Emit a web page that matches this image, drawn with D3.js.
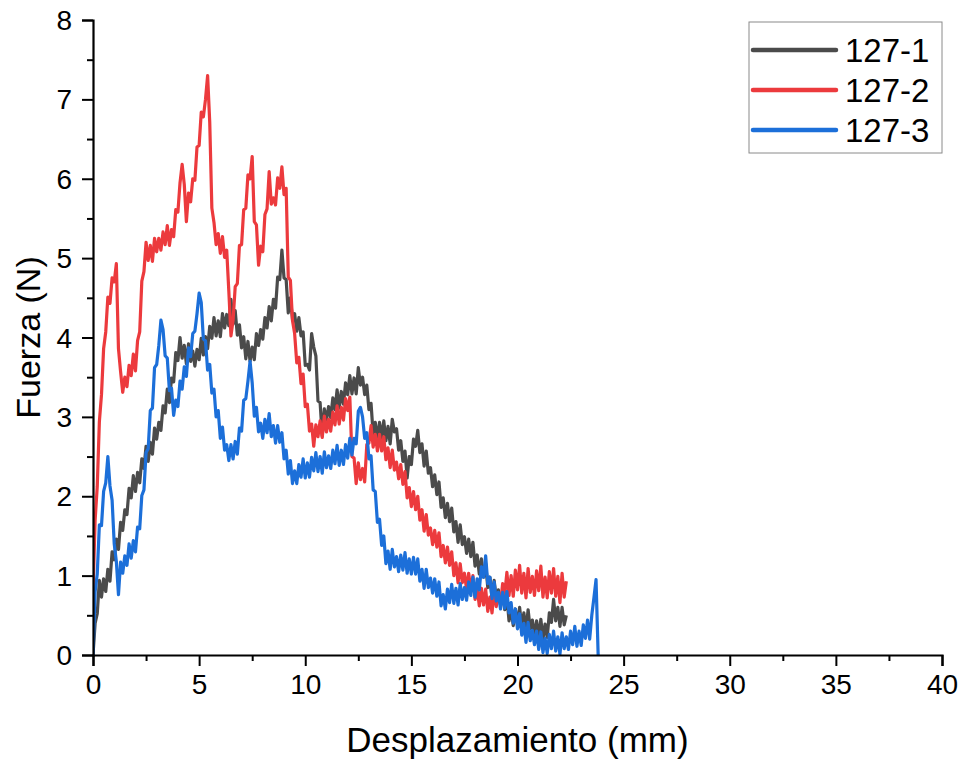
<!DOCTYPE html>
<html>
<head>
<meta charset="utf-8">
<script src="https://cdn.jsdelivr.net/npm/d3@7"></script>
<style>
  html, body { margin: 0; padding: 0; background: #fff; }
  svg { display: block; font-family: "Liberation Sans", Arial, sans-serif; }
</style>
</head>
<body>
<svg id="chart" width="966" height="760"></svg>
<script>
// Force–displacement curves for three specimens, sampled every 0.1 mm.
const sampleStep = 0.1;

const seriesNames = ["127-1", "127-2", "127-3"];
const seriesColors = ["#4b4b4b", "#ec3a3d", "#1c6fd9"];

const force127_1 = [
  0, 0.40, 0.52, 0.94, 0.73, 0.96, 0.80, 1.08, 0.93, 1.30,
  1.20, 1.46, 1.33, 1.67, 1.57, 1.83, 1.77, 2.10, 1.98, 2.26,
  2.06, 2.30, 2.17, 2.47, 2.35, 2.63, 2.44, 2.68, 2.53, 2.86,
  2.72, 2.93, 2.83, 3.14, 3.05, 3.35, 3.18, 3.49, 3.44, 3.81,
  3.71, 4.00, 3.74, 3.90, 3.67, 3.92, 3.70, 3.83, 3.64, 3.85,
  3.72, 3.99, 3.78, 4.01, 3.86, 4.14, 3.99, 4.25, 4.02, 4.21,
  4.01, 4.30, 4.12, 4.29, 4.15, 4.48, 4.17, 4.34, 4.03, 4.16,
  3.87, 4.01, 3.73, 3.95, 3.70, 3.88, 3.72, 4.05, 3.90, 4.10,
  3.98, 4.25, 4.12, 4.39, 4.21, 4.48, 4.37, 4.76, 4.73, 5.10,
  4.75, 4.73, 4.31, 4.50, 4.23, 4.30, 4.08, 4.25, 4.02, 4.07,
  3.65, 3.66, 3.59, 4.05, 3.88, 3.77, 3.20, 3.18, 2.76, 3.10,
  2.96, 3.13, 2.99, 3.24, 3.09, 3.34, 3.11, 3.32, 3.16, 3.43,
  3.28, 3.52, 3.29, 3.49, 3.29, 3.62, 3.40, 3.50, 3.28, 3.40,
  3.09, 3.17, 2.78, 2.93, 2.72, 2.93, 2.73, 2.95, 2.70, 2.88,
  2.66, 2.97, 2.81, 2.85, 2.58, 2.70, 2.44, 2.57, 2.23, 2.50,
  2.40, 2.72, 2.63, 2.83, 2.55, 2.66, 2.38, 2.57, 2.29, 2.36,
  2.12, 2.27, 2.02, 2.18, 1.86, 1.98, 1.73, 1.91, 1.68, 1.85,
  1.55, 1.68, 1.42, 1.64, 1.39, 1.49, 1.28, 1.46, 1.24, 1.42,
  1.12, 1.26, 1.02, 1.21, 0.98, 1.15, 0.85, 0.98, 0.71, 0.94,
  0.71, 0.82, 0.63, 0.80, 0.57, 0.74, 0.43, 0.58, 0.37, 0.58,
  0.38, 0.60, 0.35, 0.53, 0.31, 0.57, 0.33, 0.44, 0.24, 0.43,
  0.22, 0.45, 0.20, 0.39, 0.22, 0.53, 0.41, 0.70, 0.43, 0.60,
  0.36, 0.60, 0.38, 0.50
];

const force127_2 = [
  0.80, 1.70, 2.12, 2.94, 3.28, 3.86, 4.07, 4.51, 4.43, 4.75,
  4.70, 4.93, 3.86, 3.57, 3.31, 3.50, 3.38, 3.65, 3.52, 3.79,
  3.58, 3.96, 4.07, 4.71, 4.83, 5.20, 4.97, 5.16, 4.96, 5.25,
  5.08, 5.25, 5.10, 5.33, 5.17, 5.41, 5.16, 5.36, 5.27, 5.61,
  5.58, 5.95, 6.18, 5.93, 5.46, 5.82, 5.71, 6.00, 5.98, 6.40,
  6.42, 6.84, 6.78, 7.00, 7.30, 6.71, 5.63, 5.45, 5.17, 5.31,
  5.06, 5.27, 5.01, 5.10, 4.58, 4.02, 4.22, 4.64, 4.68, 5.16,
  5.17, 5.61, 5.63, 6.05, 6.00, 6.28, 5.46, 5.42, 4.91, 5.15,
  5.08, 5.55, 5.62, 6.09, 5.68, 5.76, 5.67, 6.01, 5.88, 6.15,
  5.80, 5.88, 4.76, 4.72, 4.21, 4.05, 3.68, 3.75, 3.42, 3.54,
  3.13, 3.16, 2.82, 2.91, 2.63, 2.90, 2.75, 2.95, 2.74, 3.01,
  2.81, 2.97, 2.82, 3.06, 2.90, 3.14, 2.91, 3.12, 2.96, 3.23,
  3.08, 3.25, 2.50, 2.48, 2.16, 2.42, 2.21, 2.35, 2.18, 2.65,
  2.67, 2.89, 2.62, 2.78, 2.57, 2.78, 2.57, 2.75, 2.46, 2.61,
  2.36, 2.58, 2.33, 2.43, 2.22, 2.40, 2.15, 2.31, 1.98, 2.11,
  1.87, 2.06, 1.83, 2.00, 1.70, 1.83, 1.56, 1.77, 1.51, 1.60,
  1.39, 1.57, 1.36, 1.54, 1.24, 1.38, 1.16, 1.36, 1.13, 1.30,
  1.00, 1.16, 0.91, 1.15, 0.91, 1.03, 0.83, 1.03, 0.82, 1.00,
  0.70, 0.85, 0.62, 0.84, 0.63, 0.83, 0.55, 0.73, 0.53, 0.81,
  0.61, 0.78, 0.65, 0.90, 0.77, 1.04, 0.75, 1.00, 0.74, 1.07,
  0.82, 1.13, 0.78, 1.03, 0.72, 1.09, 0.79, 0.99, 0.75, 1.06,
  0.81, 1.12, 0.73, 0.98, 0.72, 1.05, 0.78, 1.09, 0.74, 0.99,
  0.66, 1.03, 0.73, 0.93
];

const force127_3 = [
  0, 0.80, 1.02, 1.64, 1.63, 2.06, 2.17, 2.50, 2.13, 1.95,
  1.40, 1.18, 0.76, 1.17, 1.03, 1.25, 1.13, 1.40, 1.22, 1.44,
  1.30, 1.61, 1.59, 2.01, 2.08, 2.55, 2.60, 3.08, 3.11, 3.62,
  3.66, 3.90, 4.22, 4.10, 3.77, 3.74, 3.33, 3.36, 3.02, 3.21,
  3.13, 3.45, 3.35, 3.63, 3.51, 3.87, 3.76, 4.05, 4.08, 4.30,
  4.56, 4.44, 3.98, 3.96, 3.59, 3.66, 3.30, 3.35, 3.00, 3.08,
  2.73, 2.87, 2.58, 2.65, 2.45, 2.65, 2.47, 2.69, 2.53, 2.86,
  2.82, 3.21, 3.23, 3.45, 3.70, 3.43, 3.01, 3.12, 2.81, 2.92,
  2.73, 2.97, 2.80, 3.04, 2.75, 2.89, 2.67, 2.89, 2.68, 2.80,
  2.47, 2.58, 2.28, 2.45, 2.16, 2.32, 2.16, 2.40, 2.24, 2.47,
  2.23, 2.42, 2.24, 2.49, 2.32, 2.55, 2.31, 2.50, 2.29, 2.56,
  2.36, 2.51, 2.35, 2.58, 2.41, 2.64, 2.39, 2.58, 2.40, 2.65,
  2.48, 2.73, 2.52, 2.73, 2.66, 3.07, 3.12, 3.00, 2.73, 2.80,
  2.47, 2.51, 2.08, 2.06, 1.67, 1.71, 1.38, 1.50, 1.15, 1.31,
  1.08, 1.33, 1.11, 1.24, 1.05, 1.26, 1.07, 1.29, 1.03, 1.21,
  1.02, 1.23, 1.02, 1.21, 0.93, 1.08, 0.84, 1.08, 0.85, 0.97,
  0.78, 0.96, 0.74, 0.92, 0.62, 0.76, 0.58, 0.83, 0.66, 0.89,
  0.65, 0.84, 0.63, 0.90, 0.70, 0.85, 0.69, 0.92, 0.75, 0.98,
  0.73, 0.96, 0.82, 1.11, 0.98, 1.25, 0.90, 0.98, 0.71, 0.92,
  0.68, 0.79, 0.58, 0.79, 0.59, 0.80, 0.53, 0.66, 0.40, 0.58,
  0.33, 0.52, 0.25, 0.40, 0.16, 0.41, 0.18, 0.31, 0.13, 0.30,
  0.07, 0.29, 0.03, 0.21, 0.02, 0.26, 0.08, 0.30, 0.05, 0.23,
  0.01, 0.28, 0.08, 0.23, 0.07, 0.30, 0.13, 0.36, 0.11, 0.30,
  0.12, 0.38, 0.21, 0.44, 0.20, 0.50, 0.72, 0.95, 0.00
];

const xTickValues = [0, 5, 10, 15, 20, 25, 30, 35, 40];
const yTickValues = [0, 1, 2, 3, 4, 5, 6, 7, 8];
const xMinorTicks = [2.5, 7.5, 12.5, 17.5, 22.5, 27.5, 32.5, 37.5];
const yMinorTicks = [0.5, 1.5, 2.5, 3.5, 4.5, 5.5, 6.5, 7.5];

const xTitle = "Desplazamiento (mm)";
const yTitle = "Fuerza (N)";

const margin = { left: 93, right: 24, top: 20, bottom: 105 };
const width = 966, height = 760;

const svg = d3.select("#chart");

const x = d3.scaleLinear().domain([0, 40]).range([margin.left, width - margin.right]);
const y = d3.scaleLinear().domain([0, 8]).range([height - margin.bottom, margin.top]);

svg.append("defs").append("clipPath").attr("id", "plot-clip")
  .append("rect")
  .attr("x", x(0)).attr("y", y(8) - 2)
  .attr("width", x(40) - x(0)).attr("height", y(0) - y(8) + 2);

// Curves, drawn in legend order so the last specimen sits on top
const allSeries = [force127_1, force127_2, force127_3];
const line = d3.line()
  .x((d, i) => x(i * sampleStep))
  .y(d => y(d));

const curves = svg.append("g").attr("clip-path", "url(#plot-clip)");
allSeries.forEach((vals, k) => {
  curves.append("path")
    .datum(vals)
    .attr("d", line)
    .attr("fill", "none")
    .attr("stroke", seriesColors[k])
    .attr("stroke-width", 3.2)
    .attr("stroke-linejoin", "round");
});

// Axes
const axisColor = "#000";
const xAxis = svg.append("g").attr("transform", `translate(0,${y(0)})`)
  .call(d3.axisBottom(x).tickValues(xTickValues).tickSize(11).tickPadding(8).tickFormat(d3.format("d")));
svg.append("g").attr("transform", `translate(0,${y(0)})`)
  .call(d3.axisBottom(x).tickValues(xMinorTicks).tickSize(6).tickFormat(""))
  .select(".domain").remove();

const yAxis = svg.append("g").attr("transform", `translate(${x(0)},0)`)
  .call(d3.axisLeft(y).tickValues(yTickValues).tickSize(11).tickPadding(10).tickFormat(d3.format("d")));
svg.append("g").attr("transform", `translate(${x(0)},0)`)
  .call(d3.axisLeft(y).tickValues(yMinorTicks).tickSize(6).tickFormat(""))
  .select(".domain").remove();

svg.selectAll(".domain").attr("stroke", axisColor).attr("stroke-width", 2.2);
svg.selectAll(".tick line").attr("stroke", axisColor).attr("stroke-width", 2);
svg.selectAll(".tick text")
  .attr("fill", "#000")
  .style("font-family", "'Liberation Sans', Arial, sans-serif")
  .style("font-size", "28px");
xAxis.selectAll(".tick text").attr("dy", "0.72em");
yAxis.selectAll(".tick text").attr("dy", "0.34em");

// Axis titles
svg.append("text")
  .attr("x", (x(0) + x(40)) / 2)
  .attr("y", 752)
  .attr("text-anchor", "middle")
  .style("font-size", "35px")
  .attr("fill", "#000")
  .text(xTitle);

svg.append("text")
  .attr("transform", `translate(40,${(y(0) + y(8)) / 2}) rotate(-90)`)
  .attr("text-anchor", "middle")
  .style("font-size", "34px")
  .attr("fill", "#000")
  .text(yTitle);

// Legend
const legend = svg.append("g").attr("transform", "translate(749,22)");
legend.append("rect")
  .attr("width", 193).attr("height", 131)
  .attr("fill", "#fff")
  .attr("stroke", "#8a8a8a").attr("stroke-width", 1);
seriesNames.forEach((name, k) => {
  const cy = 28 + k * 40;
  legend.append("line")
    .attr("x1", 4).attr("x2", 87).attr("y1", cy).attr("y2", cy)
    .attr("stroke", seriesColors[k]).attr("stroke-width", 4.5)
    .attr("stroke-linecap", "round");
  legend.append("text")
    .attr("x", 96).attr("y", cy).attr("dy", "0.36em")
    .style("font-size", "33px")
    .attr("fill", "#000")
    .text(name);
});
</script>
</body>
</html>
